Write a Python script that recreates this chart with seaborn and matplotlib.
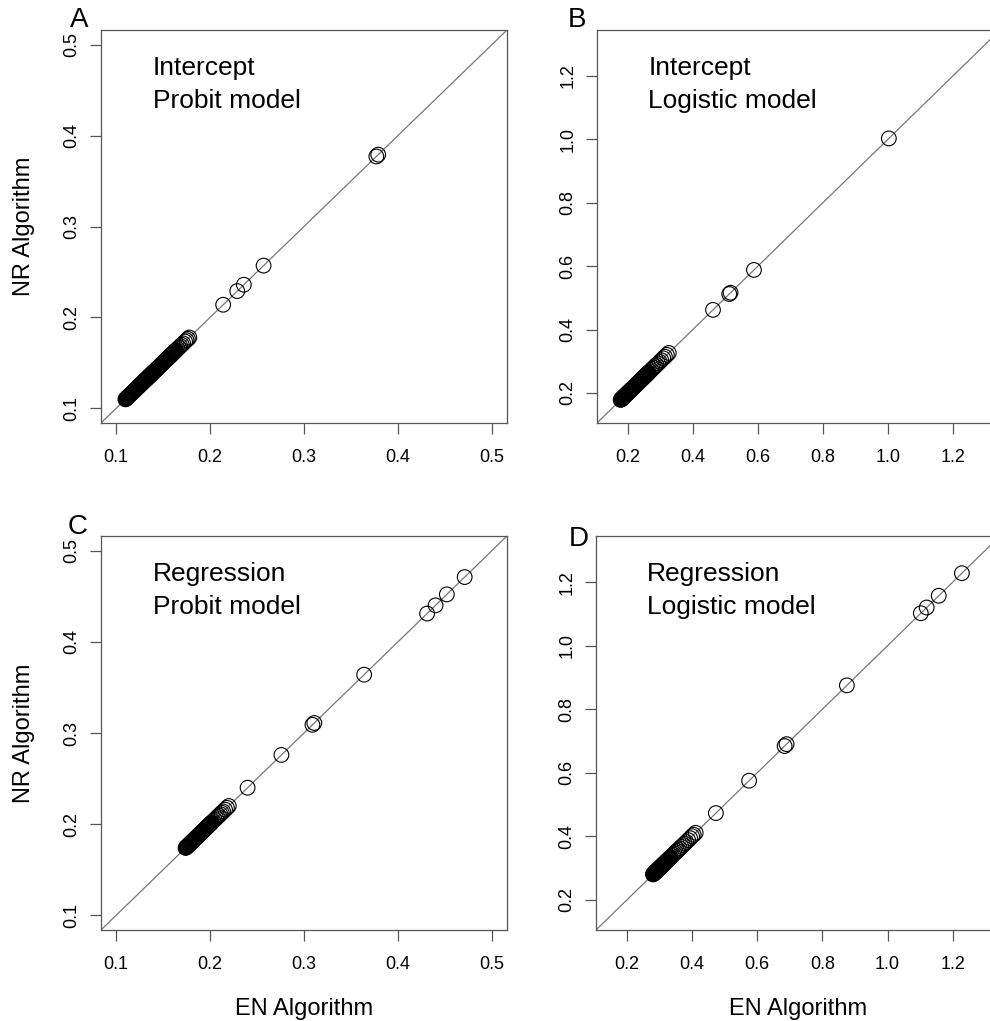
import matplotlib
matplotlib.use("Agg")
import matplotlib.pyplot as plt
import numpy as np
import pandas as pd
import seaborn as sns
from matplotlib.ticker import FormatStrFormatter

sns.set_style("white")
plt.rcParams["font.family"] = ["Liberation Sans", "DejaVu Sans"]
plt.rcParams["text.color"] = "black"
plt.rcParams["axes.labelcolor"] = "black"

# panel A: intercept, probit model
en_a = [0.1100, 0.1105, 0.1110, 0.1115, 0.1120, 0.1125, 0.1130, 0.1135, 0.1140, 0.1145,
        0.1150, 0.1155, 0.1160, 0.1165, 0.1170, 0.1175, 0.1180, 0.1185, 0.1190, 0.1195,
        0.1200, 0.1205, 0.1210, 0.1215, 0.1220, 0.1225, 0.1230, 0.1235, 0.1240, 0.1245,
        0.1250, 0.1255, 0.1260, 0.1265, 0.1270, 0.1275, 0.1280, 0.1285, 0.1290, 0.1295,
        0.1300, 0.1305, 0.1310, 0.1315, 0.1320, 0.1325, 0.1330, 0.1335, 0.1340, 0.1345,
        0.1350, 0.1355, 0.1360, 0.1365, 0.1370, 0.1375, 0.1380, 0.1385, 0.1390, 0.1395,
        0.1400, 0.1405, 0.1410, 0.1415, 0.1420, 0.1425, 0.1430, 0.1435, 0.1440, 0.1445,
        0.1450, 0.1455, 0.1460, 0.1465, 0.1470, 0.1475, 0.1480, 0.1485, 0.1490, 0.1495,
        0.1500, 0.1505, 0.1510, 0.1515, 0.1520, 0.1525, 0.1530, 0.1535, 0.1540, 0.1545,
        0.1550, 0.1555, 0.1560, 0.1565, 0.1570, 0.1575, 0.1580, 0.1585, 0.1590, 0.1595,
        0.1600, 0.1605, 0.1610, 0.1615, 0.1620, 0.1625, 0.1630, 0.1635, 0.1640,
        0.1655, 0.1670, 0.1685, 0.1700, 0.1715, 0.1735, 0.1750, 0.1765, 0.1780,
        0.214, 0.229, 0.236, 0.257, 0.377, 0.379]
nr_a = [0.1100, 0.1105, 0.1110, 0.1115, 0.1120, 0.1125, 0.1130, 0.1135, 0.1140, 0.1145,
        0.1150, 0.1155, 0.1160, 0.1165, 0.1170, 0.1175, 0.1180, 0.1185, 0.1190, 0.1195,
        0.1200, 0.1205, 0.1210, 0.1215, 0.1220, 0.1225, 0.1230, 0.1235, 0.1240, 0.1245,
        0.1250, 0.1255, 0.1260, 0.1265, 0.1270, 0.1275, 0.1280, 0.1285, 0.1290, 0.1295,
        0.1300, 0.1305, 0.1310, 0.1315, 0.1320, 0.1325, 0.1330, 0.1335, 0.1340, 0.1345,
        0.1350, 0.1355, 0.1360, 0.1365, 0.1370, 0.1375, 0.1380, 0.1385, 0.1390, 0.1395,
        0.1400, 0.1405, 0.1410, 0.1415, 0.1420, 0.1425, 0.1430, 0.1435, 0.1440, 0.1445,
        0.1450, 0.1455, 0.1460, 0.1465, 0.1470, 0.1475, 0.1480, 0.1485, 0.1490, 0.1495,
        0.1500, 0.1505, 0.1510, 0.1515, 0.1520, 0.1525, 0.1530, 0.1535, 0.1540, 0.1545,
        0.1550, 0.1555, 0.1560, 0.1565, 0.1570, 0.1575, 0.1580, 0.1585, 0.1590, 0.1595,
        0.1600, 0.1605, 0.1610, 0.1615, 0.1620, 0.1625, 0.1630, 0.1635, 0.1640,
        0.1655, 0.1670, 0.1685, 0.1700, 0.1715, 0.1735, 0.1750, 0.1765, 0.1780,
        0.214, 0.229, 0.236, 0.257, 0.377, 0.379]

# panel B: intercept, logistic model
en_b = [0.178, 0.179,
        0.180, 0.181, 0.182, 0.183, 0.184, 0.185, 0.186, 0.187, 0.188, 0.189,
        0.190, 0.191, 0.192, 0.193, 0.194, 0.195, 0.196, 0.197, 0.198, 0.199,
        0.200, 0.201, 0.202, 0.203, 0.204, 0.205, 0.206, 0.207, 0.208, 0.209,
        0.210, 0.211, 0.212, 0.213, 0.214, 0.215, 0.216, 0.217, 0.218, 0.219,
        0.220, 0.221, 0.222, 0.223, 0.224, 0.225, 0.226, 0.227, 0.228, 0.229,
        0.230, 0.231, 0.232, 0.233, 0.234, 0.235, 0.236, 0.237, 0.238, 0.239,
        0.240, 0.241, 0.242, 0.243, 0.244, 0.245, 0.246, 0.247, 0.248, 0.249,
        0.250, 0.251, 0.252, 0.253, 0.254, 0.255, 0.256, 0.257, 0.258, 0.259,
        0.260, 0.261, 0.262, 0.263, 0.264,
        0.268, 0.272, 0.276, 0.280, 0.284, 0.288, 0.293, 0.298, 0.303, 0.309,
        0.314, 0.320, 0.326,
        0.462, 0.512, 0.516, 0.588, 1.003]
nr_b = [0.178, 0.179,
        0.180, 0.181, 0.182, 0.183, 0.184, 0.185, 0.186, 0.187, 0.188, 0.189,
        0.190, 0.191, 0.192, 0.193, 0.194, 0.195, 0.196, 0.197, 0.198, 0.199,
        0.200, 0.201, 0.202, 0.203, 0.204, 0.205, 0.206, 0.207, 0.208, 0.209,
        0.210, 0.211, 0.212, 0.213, 0.214, 0.215, 0.216, 0.217, 0.218, 0.219,
        0.220, 0.221, 0.222, 0.223, 0.224, 0.225, 0.226, 0.227, 0.228, 0.229,
        0.230, 0.231, 0.232, 0.233, 0.234, 0.235, 0.236, 0.237, 0.238, 0.239,
        0.240, 0.241, 0.242, 0.243, 0.244, 0.245, 0.246, 0.247, 0.248, 0.249,
        0.250, 0.251, 0.252, 0.253, 0.254, 0.255, 0.256, 0.257, 0.258, 0.259,
        0.260, 0.261, 0.262, 0.263, 0.264,
        0.268, 0.272, 0.276, 0.280, 0.284, 0.288, 0.293, 0.298, 0.303, 0.309,
        0.314, 0.320, 0.326,
        0.462, 0.512, 0.516, 0.588, 1.003]

# panel C: regression, probit model
en_c = [0.1740, 0.1745, 0.1750, 0.1755, 0.1760, 0.1765, 0.1770, 0.1775, 0.1780, 0.1785,
        0.1790, 0.1795, 0.1800, 0.1805, 0.1810, 0.1815, 0.1820, 0.1825, 0.1830, 0.1835,
        0.1840, 0.1845, 0.1850, 0.1855, 0.1860, 0.1865, 0.1870, 0.1875, 0.1880, 0.1885,
        0.1890, 0.1895, 0.1900, 0.1905, 0.1910, 0.1915, 0.1920, 0.1925, 0.1930, 0.1935,
        0.1940, 0.1945, 0.1950, 0.1955, 0.1960, 0.1965, 0.1970, 0.1975, 0.1980, 0.1985,
        0.1990, 0.1995, 0.2000, 0.2005, 0.2010, 0.2015, 0.2020,
        0.2035, 0.2050, 0.2065, 0.2080, 0.2095, 0.2110, 0.2125, 0.2140, 0.2160,
        0.2180, 0.2200,
        0.240, 0.276, 0.309, 0.311, 0.364, 0.431, 0.440, 0.452, 0.471]
nr_c = [0.1740, 0.1745, 0.1750, 0.1755, 0.1760, 0.1765, 0.1770, 0.1775, 0.1780, 0.1785,
        0.1790, 0.1795, 0.1800, 0.1805, 0.1810, 0.1815, 0.1820, 0.1825, 0.1830, 0.1835,
        0.1840, 0.1845, 0.1850, 0.1855, 0.1860, 0.1865, 0.1870, 0.1875, 0.1880, 0.1885,
        0.1890, 0.1895, 0.1900, 0.1905, 0.1910, 0.1915, 0.1920, 0.1925, 0.1930, 0.1935,
        0.1940, 0.1945, 0.1950, 0.1955, 0.1960, 0.1965, 0.1970, 0.1975, 0.1980, 0.1985,
        0.1990, 0.1995, 0.2000, 0.2005, 0.2010, 0.2015, 0.2020,
        0.2035, 0.2050, 0.2065, 0.2080, 0.2095, 0.2110, 0.2125, 0.2140, 0.2160,
        0.2180, 0.2200,
        0.240, 0.276, 0.309, 0.311, 0.364, 0.431, 0.440, 0.452, 0.471]

# panel D: regression, logistic model
en_d = [0.280, 0.281, 0.282, 0.283, 0.284, 0.285, 0.286, 0.287, 0.288, 0.289,
        0.290, 0.291, 0.292, 0.293, 0.294, 0.295, 0.296, 0.297, 0.298, 0.299,
        0.300, 0.301, 0.302, 0.303, 0.304, 0.305, 0.306, 0.307, 0.308, 0.309,
        0.310, 0.311, 0.312, 0.313, 0.314, 0.315, 0.316, 0.317, 0.318, 0.319,
        0.320, 0.321, 0.322, 0.323, 0.324, 0.325, 0.326, 0.327, 0.328, 0.329,
        0.330, 0.331, 0.332, 0.333, 0.334,
        0.338, 0.342, 0.346, 0.350, 0.354, 0.358, 0.362, 0.367, 0.372, 0.377,
        0.382, 0.388, 0.394, 0.400, 0.405, 0.411,
        0.473, 0.575, 0.684, 0.690, 0.875, 1.102, 1.120, 1.157, 1.228]
nr_d = [0.280, 0.281, 0.282, 0.283, 0.284, 0.285, 0.286, 0.287, 0.288, 0.289,
        0.290, 0.291, 0.292, 0.293, 0.294, 0.295, 0.296, 0.297, 0.298, 0.299,
        0.300, 0.301, 0.302, 0.303, 0.304, 0.305, 0.306, 0.307, 0.308, 0.309,
        0.310, 0.311, 0.312, 0.313, 0.314, 0.315, 0.316, 0.317, 0.318, 0.319,
        0.320, 0.321, 0.322, 0.323, 0.324, 0.325, 0.326, 0.327, 0.328, 0.329,
        0.330, 0.331, 0.332, 0.333, 0.334,
        0.338, 0.342, 0.346, 0.350, 0.354, 0.358, 0.362, 0.367, 0.372, 0.377,
        0.382, 0.388, 0.394, 0.400, 0.405, 0.411,
        0.473, 0.575, 0.684, 0.690, 0.875, 1.102, 1.120, 1.157, 1.228]

ticks_probit = [0.1, 0.2, 0.3, 0.4, 0.5]
ticks_logit = [0.2, 0.4, 0.6, 0.8, 1.0, 1.2]

panels = [
    ("A", "Intercept", "Probit model", en_a, nr_a, ticks_probit, (0.084, 0.516)),
    ("B", "Intercept", "Logistic model", en_b, nr_b, ticks_logit, (0.105, 1.345)),
    ("C", "Regression", "Probit model", en_c, nr_c, ticks_probit, (0.084, 0.516)),
    ("D", "Regression", "Logistic model", en_d, nr_d, ticks_logit, (0.105, 1.345)),
]

# axes boxes in figure fractions (left, bottom, width, height)
positions = [
    [0.1020, 0.5857, 0.4101, 0.3849],
    [0.6030, 0.5857, 0.4071, 0.3849],
    [0.1020, 0.0891, 0.4101, 0.3859],
    [0.6020, 0.0891, 0.4081, 0.3859],
]
letter_pos = [(-0.054, 1.008), (-0.05, 1.008), (-0.058, 1.006), (-0.043, 0.975)]

fig = plt.figure(figsize=(9.9, 10.21), dpi=100)

for i, (letter, line1, line2, en, nr, ticks, lims) in enumerate(panels):
    ax = fig.add_axes(positions[i])
    df = pd.DataFrame({"EN": en, "NR": nr})
    ax.axline((0, 0), (1, 1), color="#777777", lw=0.9, zorder=1)
    sns.scatterplot(data=df, x="EN", y="NR", ax=ax, s=112, marker="o",
                    facecolors="none", edgecolor="black", linewidth=0.8,
                    zorder=2)
    ax.set_xlim(lims)
    ax.set_ylim(lims)
    ax.set_xticks(ticks)
    ax.set_yticks(ticks)
    ax.xaxis.set_major_formatter(FormatStrFormatter("%.1f"))
    ax.yaxis.set_major_formatter(FormatStrFormatter("%.1f"))
    ax.tick_params(axis="both", direction="out", length=8, width=0.9,
                   color="#555555", labelsize=13, labelcolor="black",
                   bottom=True, left=True)
    ax.tick_params(axis="x", pad=11)
    ax.tick_params(axis="y", pad=7)
    for lab in ax.get_yticklabels():
        lab.set_rotation(90)
        lab.set_va("center")
    for sp in ax.spines.values():
        sp.set_color("#555555")
        sp.set_linewidth(0.9)

    ax.text(0.127, 0.885, line1, transform=ax.transAxes, fontsize=19,
            va="baseline", ha="left", color="black")
    ax.text(0.127, 0.802, line2, transform=ax.transAxes, fontsize=19,
            va="baseline", ha="left", color="black")
    ax.text(letter_pos[i][0], letter_pos[i][1], letter, transform=ax.transAxes,
            fontsize=20, ha="center", va="baseline", color="black")

    if i in (0, 2):
        ax.set_ylabel("NR Algorithm", fontsize=17)
        ax.yaxis.set_label_coords(-0.163, 0.5)
    else:
        ax.set_ylabel("")
    if i in (2, 3):
        ax.set_xlabel("EN Algorithm", fontsize=17)
        ax.xaxis.set_label_coords(0.5, -0.172)
    else:
        ax.set_xlabel("")

fig.savefig("out.png", dpi=100)
